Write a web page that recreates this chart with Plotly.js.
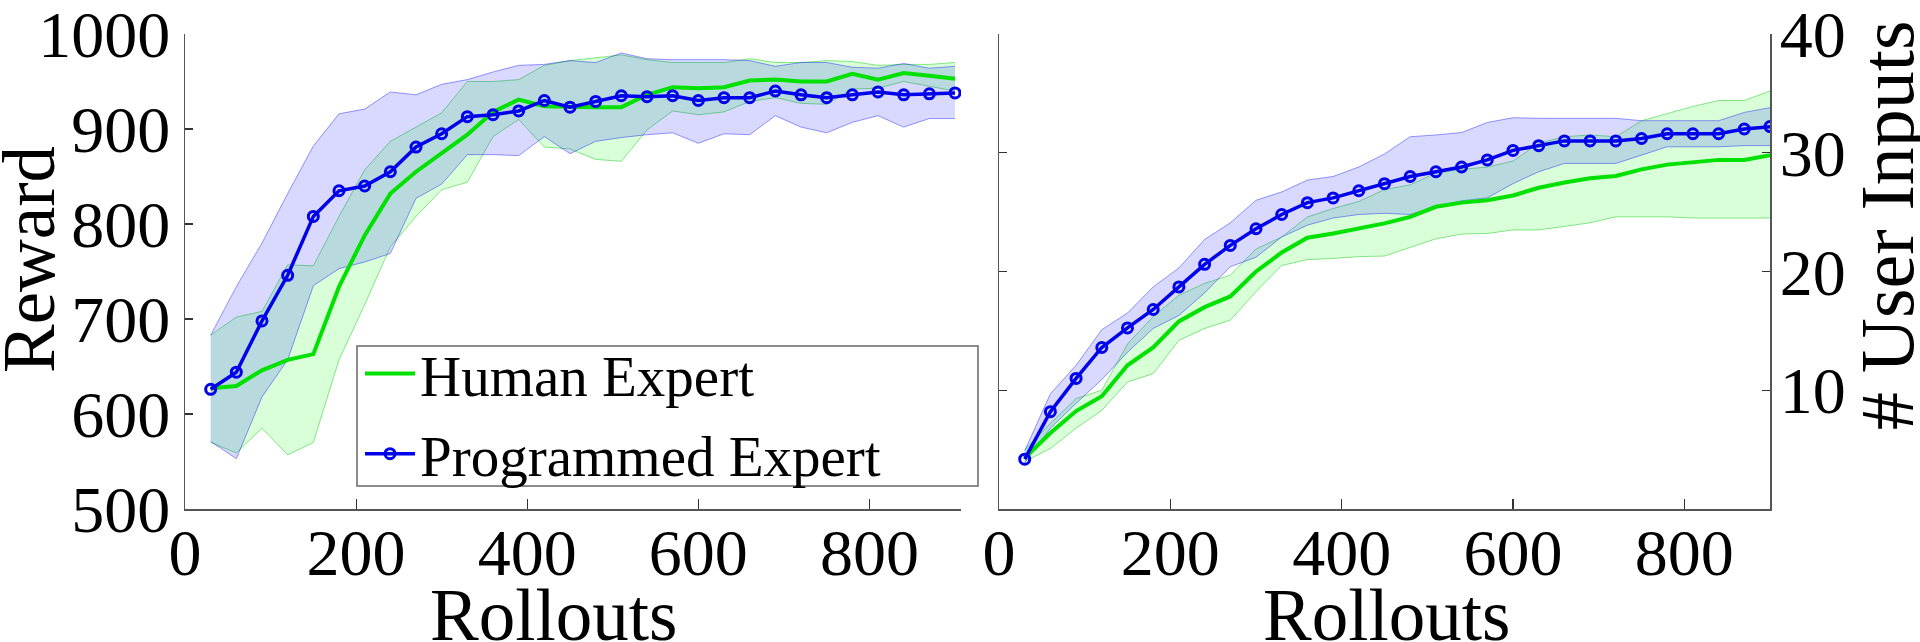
<!DOCTYPE html>
<html>
<head>
<meta charset="utf-8">
<script src="https://cdn.plot.ly/plotly-3.0.1.min.js"></script>
<style>html,body{margin:0;padding:0;background:#fff;}#chart{width:1920px;height:642px;}</style>
</head>
<body>
<div id="chart"></div>
<script>
// ---------- data ----------
const rollouts = [30,60,90,120,150,180,210,240,270,300,330,360,390,420,450,480,510,540,570,600,630,660,690,720,750,780,810,840,870,900];

// Left panel: Reward
const rewardHumanMean  = [627,629.5,646,657,663,734,788,832,855,874,894,918,931,924,923,923,923,936,944,943,944,951,952,950,950,958,952,959,956,953];
const rewardHumanUpper = [683,702,708,757,756,808,857,887,902,917,950,950,952,967,972,975,978,973,970,970,970,974,970,970,972,971,967,968,968,970];
const rewardHumanLower = [570,559,585,557,570,657,715,776,808,836,844,892,910,881,879,868,866,899,919,915,918,929,933,927,926,942,943,950,945,940];

const rewardProgMean  = [626,644,698,746,808,835,840,855,881,895,913,915,919,930,923,929,935,934,935,930,933,933,940,936,933,936,939,936,937,938];
const rewardProgUpper = [683,734,780,832,882,916,921,939,936,947,952,960,967,968,972,970,980,974,973,973,973,972,966,970,970,965,964,969,964,966];
const rewardProgLower = [571,553,618,657,735,753,760,769,827,842,873,873,872,892,874,887,891,894,896,885,895,894,914,902,896,907,914,902,911,911];

// Right panel: # User Inputs
const inputsHumanMean  = [4.3,6.4,8.25,9.5,12.1,13.6,15.8,17.0,17.9,20.0,21.6,22.85,23.2,23.6,24.05,24.6,25.45,25.8,26.0,26.4,27.05,27.5,27.85,28.05,28.6,29.0,29.2,29.4,29.4,29.8];
const inputsHumanUpper = [5.0,7.2,9.3,10.0,13.9,16.2,18.0,19.0,19.7,21.9,22.9,24.6,25.3,25.9,26.9,27.3,28.3,28.6,28.8,29.3,30.8,31.35,31.5,31.35,32.7,33.3,33.9,34.4,34.4,35.2];
const inputsHumanLower = [4.0,5.1,6.8,8.3,10.7,11.4,14.2,15.2,15.9,18.3,20.5,21.0,21.1,21.25,21.3,22.0,22.75,23.15,23.2,23.5,23.5,23.8,24.1,24.6,24.6,24.6,24.5,24.5,24.5,24.5];

const inputsProgMean  = [4.2,8.2,11.0,13.6,15.25,16.8,18.7,20.6,22.2,23.6,24.8,25.8,26.2,26.8,27.4,28.0,28.4,28.8,29.4,30.2,30.6,31.0,31.0,31.0,31.2,31.6,31.6,31.6,32.0,32.2];
const inputsProgUpper = [4.9,9.7,12.1,15.1,16.5,18.7,20.3,22.7,24.1,26.0,26.7,27.7,28.0,28.8,29.9,31.35,31.5,31.7,32.55,32.95,32.9,32.9,32.9,32.9,32.7,32.7,32.7,32.7,33.4,33.8];
const inputsProgLower = [3.9,6.8,8.9,10.9,13.2,15.2,16.3,18.2,20.4,21.2,22.9,23.9,24.5,24.8,24.9,24.8,25.45,25.95,26.2,27.4,28.4,29.1,29.1,29.1,29.8,30.5,30.5,30.5,30.6,30.6];

const seriesNames = ["Human Expert", "Programmed Expert"];
const xTickVals = [0,200,400,600,800];
const rewardTickVals = [500,600,700,800,900,1000];
const inputsTickVals = [10,20,30,40];

// ---------- styles ----------
const GREEN = "rgb(0,225,0)";
const BLUE = "rgb(0,0,235)";
const GREEN_FILL = "rgba(0,255,0,0.15)";
const BLUE_FILL = "rgba(0,0,255,0.15)";
const GREEN_EDGE = "rgba(0,200,0,0.45)";
const BLUE_EDGE = "rgba(0,0,255,0.4)";
const FONT = "Liberation Serif, Times New Roman, serif";

function band(x, lower, upper, fill, edge, xa, ya) {
  return [
    {x: x, y: lower, xaxis: xa, yaxis: ya, type: "scatter", mode: "lines",
     line: {color: edge, width: 1}, showlegend: false, hoverinfo: "skip"},
    {x: x, y: upper, xaxis: xa, yaxis: ya, type: "scatter", mode: "lines",
     line: {color: edge, width: 1}, fill: "tonexty", fillcolor: fill,
     showlegend: false, hoverinfo: "skip"}
  ];
}
function humanLine(x, y, xa, ya, show) {
  return {x: x, y: y, xaxis: xa, yaxis: ya, type: "scatter", mode: "lines",
    name: seriesNames[0], legendgroup: "h", showlegend: show,
    line: {color: GREEN, width: 4}};
}
function progLine(x, y, xa, ya, show) {
  return {x: x, y: y, xaxis: xa, yaxis: ya, type: "scatter", mode: "lines+markers",
    name: seriesNames[1], legendgroup: "p", showlegend: show,
    line: {color: BLUE, width: 3.5},
    marker: {symbol: "circle-open", size: 10, color: BLUE, line: {color: BLUE, width: 3}}};
}

const traces = [].concat(
  band(rollouts, rewardHumanLower, rewardHumanUpper, GREEN_FILL, GREEN_EDGE, "x", "y"),
  band(rollouts, rewardProgLower, rewardProgUpper, BLUE_FILL, BLUE_EDGE, "x", "y"),
  band(rollouts, inputsHumanLower, inputsHumanUpper, GREEN_FILL, GREEN_EDGE, "x2", "y2"),
  band(rollouts, inputsProgLower, inputsProgUpper, BLUE_FILL, BLUE_EDGE, "x2", "y2"),
  [humanLine(rollouts, rewardHumanMean, "x", "y", true),
   progLine(rollouts, rewardProgMean, "x", "y", true),
   humanLine(rollouts, inputsHumanMean, "x2", "y2", false),
   progLine(rollouts, inputsProgMean, "x2", "y2", false)]
);

const W = 1920, H = 642;
const px = v => v / W;
const py = v => (H - v) / H;

const axisCommon = {
  showline: true, linecolor: "#555", linewidth: 1.5,
  ticks: "inside", tickcolor: "#333", tickwidth: 1.2,
  showgrid: false, zeroline: false,
  tickfont: {family: FONT, size: 66, color: "#000"},
  ticklabeloverflow: "allow",
  fixedrange: true
};

const layout = {
  width: W, height: H,
  margin: {l: 0, r: 0, t: 0, b: 0},
  paper_bgcolor: "#fff", plot_bgcolor: "rgba(0,0,0,0)",
  font: {family: FONT, color: "#000"},
  showlegend: true,
  xaxis: Object.assign({}, axisCommon, {
    domain: [px(185), px(961)], range: [0, 907], anchor: "y",
    tickvals: xTickVals, ticklen: 10, ticklabelstandoff: -15
  }),
  yaxis: Object.assign({}, axisCommon, {
    domain: [py(509), py(34)], range: [500, 1000], anchor: "x",
    tickvals: rewardTickVals, ticklen: 8, ticklabelstandoff: 0
  }),
  xaxis2: Object.assign({}, axisCommon, {
    domain: [px(999), px(1770)], range: [0, 900], anchor: "y2",
    tickvals: xTickVals, ticklen: 10, ticklabelstandoff: -15
  }),
  yaxis2: Object.assign({}, axisCommon, {
    domain: [py(509), py(34)], range: [0, 40], anchor: "x2", side: "right",
    mirror: "ticks", tickvals: inputsTickVals, ticklen: 8, ticklabelstandoff: -5
  }),
  legend: {
    x: px(360), y: py(330), xanchor: "left", yanchor: "top",
    bgcolor: "rgba(0,0,0,0)", borderwidth: 0,
    font: {family: FONT, size: 57, color: "#000"},
    itemwidth: 50, tracegroupgap: 3
  },
  shapes: [{
    type: "rect", xref: "paper", yref: "paper",
    x0: px(357), x1: px(978), y0: py(486), y1: py(346),
    line: {color: "#666", width: 1.5}, fillcolor: "#fff", layer: "above"
  }],
  annotations: [
    {text: "Reward", xref: "paper", yref: "paper", x: px(29), y: py(260),
     xanchor: "center", yanchor: "middle", textangle: -90, showarrow: false,
     font: {family: FONT, size: 73, color: "#000"}},
    {text: "# User Inputs", xref: "paper", yref: "paper", x: px(1887), y: py(225),
     xanchor: "center", yanchor: "middle", textangle: -90, showarrow: false,
     font: {family: FONT, size: 76, color: "#000"}},
    {text: "Rollouts", xref: "paper", yref: "paper", x: px(553), y: py(615),
     xanchor: "center", yanchor: "middle", showarrow: false,
     font: {family: FONT, size: 73, color: "#000"}},
    {text: "Rollouts", xref: "paper", yref: "paper", x: px(1386), y: py(615),
     xanchor: "center", yanchor: "middle", showarrow: false,
     font: {family: FONT, size: 73, color: "#000"}}
  ]
};

Plotly.newPlot("chart", traces, layout, {staticPlot: true, displayModeBar: false});
</script>
</body>
</html>
